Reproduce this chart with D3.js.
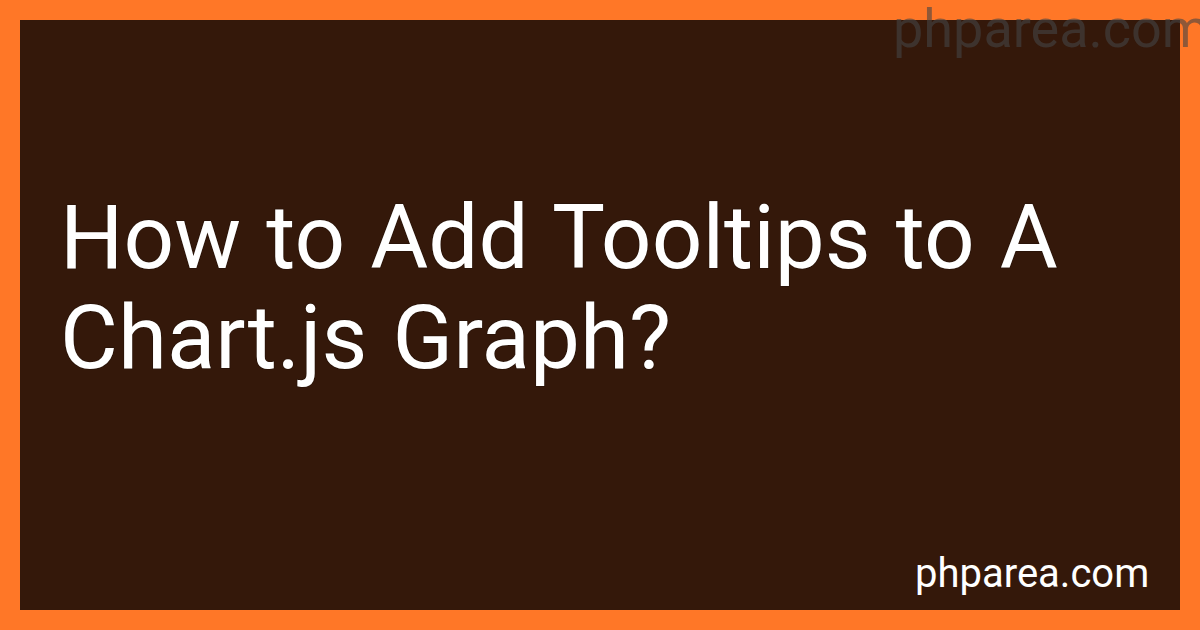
<!DOCTYPE html>
<html>
<head>
<meta charset="utf-8">
<script src="https://cdn.jsdelivr.net/npm/d3@7"></script>
<style>
  html, body { margin: 0; padding: 0; background: #ff7727; }
  svg { display: block; font-family: Roboto, "Noto Sans", sans-serif; }
</style>
</head>
<body>
<svg id="card" width="1200" height="630"></svg>
<script>
// text content of the card
var titleLines = ["How to Add Tooltips to A", "Chart.js Graph?"];
var siteName = "phparea.com";

var svg = d3.select("#card"),
    width = 1200,
    height = 630;

// orange frame
svg.append("rect")
    .attr("width", width)
    .attr("height", height)
    .attr("fill", "#ff7727");

// dark panel
svg.append("rect")
    .attr("x", 20)
    .attr("y", 20)
    .attr("width", width - 40)
    .attr("height", height - 40)
    .attr("fill", "#34180a");

// title, one text per line
svg.append("g")
    .selectAll("text")
    .data(titleLines)
    .join("text")
    .attr("x", 60)
    .attr("y", function(d, i) { return 268 + i * 100; })
    .attr("fill", "#ffffff")
    .attr("font-size", 89)
    .attr("word-spacing", 3)
    .style("paint-order", "stroke")
    .attr("stroke", "rgba(0,0,0,0.25)")
    .attr("stroke-width", 1.5)
    .text(function(d) { return d; });

// footer site name
svg.append("text")
    .attr("x", 915)
    .attr("y", 587)
    .attr("fill", "#ffffff")
    .attr("font-size", 40)
    .text(siteName);

// faded watermark top right, runs over the frame
svg.append("text")
    .attr("x", 893)
    .attr("y", 47)
    .attr("fill", "#444444")
    .attr("fill-opacity", 0.6)
    .attr("font-size", 54)
    .text(siteName);
</script>
</body>
</html>
